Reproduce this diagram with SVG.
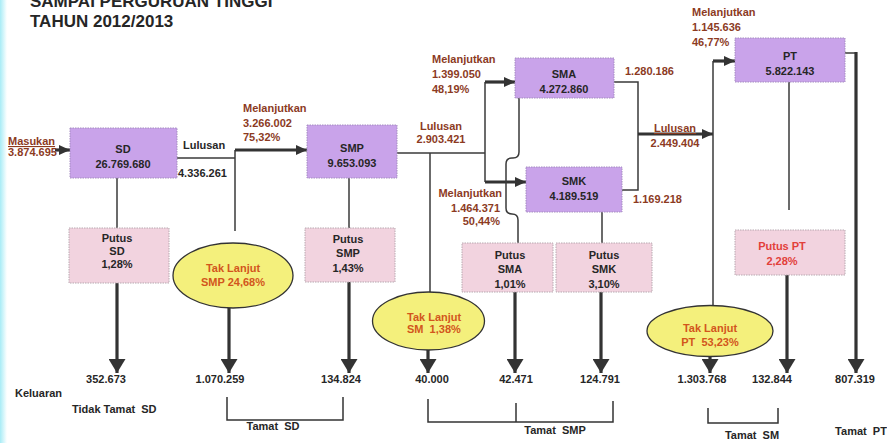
<svg xmlns="http://www.w3.org/2000/svg" width="887" height="443" viewBox="0 0 887 443">
<style>
text{font-family:"Liberation Sans",Arial,sans-serif;font-weight:bold;font-size:11px}
.t{fill:#262626}
.b{fill:#8c3b1f}
.o{fill:#d2561c}
.r{fill:#e2403a}
.m{text-anchor:middle}
.e{text-anchor:end}
.box{fill:#c9a3ea;stroke:#a58cc0;stroke-width:1;stroke-dasharray:1.5 1}
.pb{fill:#f2d3df;stroke:#b8a8b0;stroke-width:1;stroke-dasharray:1.5 1}
.el{fill:#f4f07c;stroke:#333;stroke-width:1.3}
.ln{fill:none;stroke:#3a3a3a;stroke-width:1.5}
.tk{fill:none;stroke:#333;stroke-width:3.2}
.br{fill:none;stroke:#333;stroke-width:1.5}
</style>
<defs>
<linearGradient id="cy" x1="0" x2="1" y1="0" y2="0"><stop offset="0" stop-color="#a8ecf6"/><stop offset="1" stop-color="#ffffff"/></linearGradient>
<marker id="big" markerUnits="userSpaceOnUse" viewBox="0 0 14 17" refX="14" refY="8.5" markerWidth="14" markerHeight="17" orient="auto"><path d="M0,0 L14,8.5 L0,17 z" fill="#333"/></marker>
<marker id="sm" markerUnits="userSpaceOnUse" viewBox="0 0 11 10" refX="11" refY="5" markerWidth="11" markerHeight="10" orient="auto"><path d="M0,0 L11,5 L0,10 z" fill="#333"/></marker>
</defs>
<rect x="0" y="0" width="887" height="443" fill="#ffffff"/>
<rect x="0" y="0" width="7" height="443" fill="url(#cy)"/>
<g id="title">
<text x="30" y="7" class="t" style="font-size:17px">SAMPAI PERGURUAN TINGGI</text>
<text x="30" y="27" class="t" style="font-size:17px">TAHUN 2012/2013</text>
</g>
<g id="connectors">
<line class="tk" x1="55" y1="150" x2="70" y2="150" marker-end="url(#sm)"/>
<polyline class="ln" points="177,158 235,158"/>
<line class="ln" x1="235" y1="150" x2="235" y2="231"/>
<line class="tk" x1="235" y1="150" x2="307" y2="150" marker-end="url(#sm)"/>
<line class="ln" x1="117" y1="178" x2="117" y2="228"/>
<line class="ln" x1="349" y1="178" x2="349" y2="228"/>
<line class="ln" x1="397" y1="153" x2="485" y2="153"/>
<line class="ln" x1="485" y1="82" x2="485" y2="182"/>
<line class="ln" x1="430" y1="153" x2="430" y2="292"/>
<line class="tk" x1="485" y1="82" x2="515" y2="82" marker-end="url(#sm)"/>
<line class="tk" x1="485" y1="182" x2="526" y2="182" marker-end="url(#sm)"/>
<path class="ln" d="M519,98 V152 Q519,158 513,158 H512 Q506,158 506,164 V208 Q506,214 512,214 Q518,214 518,220 V243"/>
<line class="ln" x1="602" y1="212" x2="602" y2="243"/>
<polyline class="ln" points="614,82 638,82 638,190 622,190"/>
<line class="tk" x1="638" y1="134" x2="713" y2="134" marker-end="url(#sm)"/>
<line class="ln" x1="713" y1="61" x2="713" y2="306"/>
<line class="tk" x1="713" y1="61" x2="735" y2="61" marker-end="url(#sm)"/>
<line class="ln" x1="789" y1="82" x2="789" y2="210"/>
<line class="ln" x1="845" y1="53" x2="856" y2="53"/>
<line class="tk" x1="856" y1="52" x2="856" y2="373" marker-end="url(#big)"/>
<line class="tk" x1="117" y1="283" x2="117" y2="373" marker-end="url(#big)"/>
<line class="tk" x1="229" y1="308" x2="229" y2="373" marker-end="url(#big)"/>
<line class="tk" x1="349" y1="282" x2="349" y2="373" marker-end="url(#big)"/>
<line class="tk" x1="428" y1="350" x2="428" y2="373" marker-end="url(#big)"/>
<line class="tk" x1="515" y1="292" x2="515" y2="373" marker-end="url(#big)"/>
<line class="tk" x1="601" y1="292" x2="601" y2="373" marker-end="url(#big)"/>
<line class="tk" x1="710" y1="357" x2="710" y2="373" marker-end="url(#big)"/>
<line class="tk" x1="787" y1="275" x2="787" y2="373" marker-end="url(#big)"/>
<polyline class="br" points="227,397 227,420 343,420 343,397"/>
<polyline class="br" points="428,399 428,422 613,422 613,401"/>
<line class="br" x1="516" y1="403" x2="516" y2="422"/>
<polyline class="br" points="708,408 708,423 778,423 778,408"/>
</g>
<g id="masukan">
<text x="8" y="145" class="b" text-decoration="underline">Masukan</text>
<text x="8" y="156" class="b">3.874.695</text>
</g>
<g id="sd">
<rect class="box" x="70" y="128" width="107" height="50"/>
<text x="123" y="153" class="t m">SD</text>
<text x="123" y="168" class="t m">26.769.680</text>
</g>
<g id="lulusan-sd">
<text x="183" y="149" class="t">Lulusan</text>
<text x="178" y="177" class="t">4.336.261</text>
</g>
<g id="melanjutkan-smp">
<text x="243" y="112" class="b">Melanjutkan</text>
<text x="243" y="127" class="b">3.266.002</text>
<text x="243" y="141" class="b">75,32%</text>
</g>
<g id="smp">
<rect class="box" x="307" y="125" width="90" height="53"/>
<text x="352" y="152" class="t m">SMP</text>
<text x="352" y="167" class="t m">9.653.093</text>
</g>
<g id="lulusan-smp">
<text x="441" y="130" class="b m">Lulusan</text>
<text x="441" y="143" class="b m">2.903.421</text>
</g>
<g id="melanjutkan-sma">
<text x="432" y="63" class="b">Melanjutkan</text>
<text x="432" y="78" class="b">1.399.050</text>
<text x="432" y="93" class="b">48,19%</text>
</g>
<g id="sma">
<rect class="box" x="515" y="58" width="99" height="40"/>
<text x="564" y="78" class="t m">SMA</text>
<text x="564" y="93" class="t m">4.272.860</text>
</g>
<text id="sma-out" x="625" y="75" class="b">1.280.186</text>
<g id="melanjutkan-smk">
<text x="502" y="197" class="b e">Melanjutkan</text>
<text x="500" y="212" class="b e">1.464.371</text>
<text x="500" y="225" class="b e">50,44%</text>
</g>
<g id="smk">
<rect class="box" x="526" y="167" width="96" height="45"/>
<text x="574" y="185" class="t m">SMK</text>
<text x="574" y="200" class="t m">4.189.519</text>
</g>
<text id="smk-out" x="633" y="203" class="b">1.169.218</text>
<g id="lulusan-sm">
<text x="675" y="132" class="b m" text-decoration="underline">Lulusan</text>
<text x="675" y="147" class="b m">2.449.404</text>
</g>
<g id="melanjutkan-pt">
<text x="692" y="16" class="b">Melanjutkan</text>
<text x="692" y="31" class="b">1.145.636</text>
<text x="692" y="46" class="b">46,77%</text>
</g>
<g id="pt">
<rect class="box" x="735" y="38" width="110" height="44"/>
<text x="790" y="60" class="t m">PT</text>
<text x="790" y="75" class="t m">5.822.143</text>
</g>
<g id="putus-sd">
<rect class="pb" x="69" y="228" width="100" height="55"/>
<text x="117" y="242" class="t m">Putus</text>
<text x="117" y="255" class="t m">SD</text>
<text x="117" y="268" class="t m">1,28%</text>
</g>
<g id="taklanjut-smp">
<ellipse class="el" cx="233" cy="275.5" rx="60" ry="32.5"/>
<text x="233" y="272" class="o m">Tak Lanjut</text>
<text x="233" y="286" class="o m">SMP 24,68%</text>
</g>
<g id="putus-smp">
<rect class="pb" x="305" y="228" width="90" height="54"/>
<text x="348" y="243" class="t m">Putus</text>
<text x="348" y="257" class="t m">SMP</text>
<text x="348" y="272" class="t m">1,43%</text>
</g>
<g id="taklanjut-sm">
<ellipse class="el" cx="428.5" cy="321" rx="56" ry="29"/>
<text x="407" y="321" class="o">Tak Lanjut</text>
<text x="407" y="333" class="o" xml:space="preserve">SM  1,38%</text>
</g>
<g id="putus-sma">
<rect class="pb" x="462" y="243" width="91" height="49"/>
<text x="510" y="259" class="t m">Putus</text>
<text x="510" y="273" class="t m">SMA</text>
<text x="510" y="288" class="t m">1,01%</text>
</g>
<g id="putus-smk">
<rect class="pb" x="556" y="243" width="96" height="49"/>
<text x="604" y="259" class="t m">Putus</text>
<text x="604" y="273" class="t m">SMK</text>
<text x="604" y="288" class="t m">3,10%</text>
</g>
<g id="taklanjut-pt">
<ellipse class="el" cx="710" cy="331" rx="63" ry="25.5"/>
<text x="710" y="332" class="o m">Tak Lanjut</text>
<text x="710" y="346" class="o m" xml:space="preserve">PT  53,23%</text>
</g>
<g id="putus-pt">
<rect class="pb" x="735" y="230" width="110" height="45"/>
<text x="782" y="250" class="r m">Putus PT</text>
<text x="782" y="265" class="r m">2,28%</text>
</g>
<g id="outputs">
<text x="106" y="383" class="t m">352.673</text>
<text x="220" y="383" class="t m">1.070.259</text>
<text x="341" y="383" class="t m">134.824</text>
<text x="432" y="383" class="t m">40.000</text>
<text x="516" y="383" class="t m">42.471</text>
<text x="600" y="383" class="t m">124.791</text>
<text x="702" y="383" class="t m">1.303.768</text>
<text x="772" y="383" class="t m">132.844</text>
<text x="855" y="383" class="t m">807.319</text>
<text x="15" y="397" class="t">Keluaran</text>
<text x="72" y="413" class="t" xml:space="preserve">Tidak Tamat  SD</text>
<text x="273" y="430" class="t m" xml:space="preserve">Tamat  SD</text>
<text x="555" y="434" class="t m" xml:space="preserve">Tamat  SMP</text>
<text x="752" y="439" class="t m" xml:space="preserve">Tamat  SM</text>
<text x="861" y="435" class="t m" xml:space="preserve">Tamat  PT</text>
</g>
</svg>
